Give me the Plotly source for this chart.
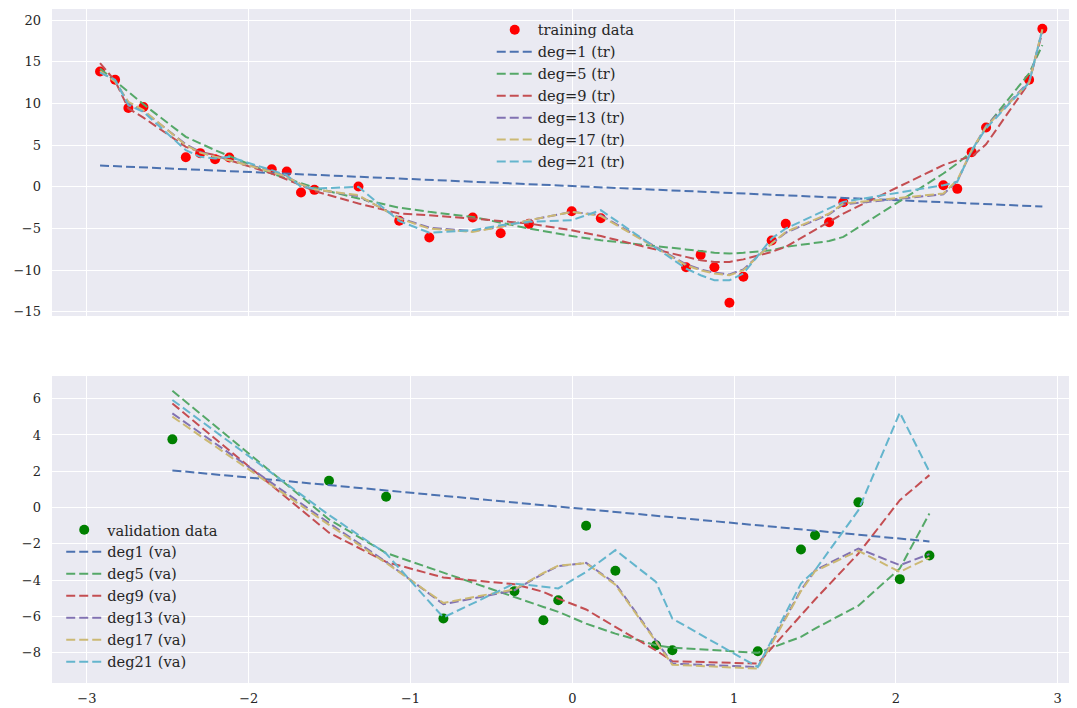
import plotly.graph_objects as go

# ---------------- data ----------------
train_x = [-2.919, -2.826, -2.744, -2.651, -2.389, -2.300, -2.208, -2.120, -1.858, -1.765,
           -1.677, -1.594, -1.322, -1.070, -0.884, -0.616, -0.443, -0.268, -0.004, 0.176,
           0.703, 0.793, 0.878, 0.971, 1.057, 1.232, 1.319, 1.587, 1.675, 2.293,
           2.379, 2.468, 2.557, 2.823, 2.905]
train_y = [13.84, 12.85, 9.45, 9.57, 3.56, 4.04, 3.32, 3.52, 2.12, 1.84,
           -0.68, -0.36, 0.04, -4.06, -6.08, -3.68, -5.56, -4.44, -2.92, -3.76,
           -9.64, -8.16, -9.64, -13.89, -10.77, -6.44, -4.44, -4.24, -1.84, 0.20,
           -0.24, 4.16, 7.12, 12.85, 18.97]

deg1_tr_x = [-2.919, 2.905]
deg1_tr = [2.56, -2.36]
deg5_tr = [14.2, 12.7, 11.3, 9.9, 6.0, 5.2, 4.4, 3.7, 1.6, 1.0,
           0.4, -0.1, -1.4, -2.5, -3.0, -3.6, -4.3, -5.0, -5.9, -6.4,
           -7.5, -7.7, -7.9, -8.0, -7.9, -7.6, -7.2, -6.5, -6.0, 1.6,
           2.8, 4.2, 7.2, 13.6, 17.0]
deg9_tr = [14.85, 12.7, 9.4, 8.3, 4.8, 4.2, 3.8, 3.2, 1.6, 0.9,
           0.2, -0.5, -2.0, -3.2, -3.4, -3.8, -4.1, -4.4, -5.2, -5.9,
           -8.4, -8.8, -9.0, -9.0, -8.7, -7.8, -7.2, -4.2, -3.2, 2.6,
           3.2, 3.6, 5.1, 12.5, 18.6]
deg13_tr = [13.8, 12.7, 10.1, 9.1, 5.1, 4.2, 3.6, 3.2, 1.9, 1.2,
            0.3, -0.3, -1.1, -3.7, -4.9, -5.3, -4.8, -4.0, -3.0, -3.4,
            -9.3, -9.9, -10.3, -10.5, -9.9, -6.8, -5.5, -3.3, -2.1, -0.9,
            0.7, 4.3, 7.3, 12.6, 18.8]
deg17_tr = [13.9, 12.6, 10.2, 9.2, 5.0, 4.1, 3.6, 3.2, 1.8, 1.2,
            0.3, -0.3, -1.0, -3.8, -5.0, -5.4, -4.8, -4.0, -3.0, -3.5,
            -9.4, -10.0, -10.4, -10.6, -10.0, -6.8, -5.4, -3.2, -2.0, -0.8,
            0.8, 4.4, 7.2, 12.5, 18.9]
deg21_tr = [13.7, 12.85, 9.8, 9.0, 4.4, 3.6, 3.4, 3.6, 2.0, 1.4,
            0.0, -0.2, 0.0, -4.1, -5.5, -5.2, -4.6, -4.2, -4.0, -2.8,
            -9.8, -10.6, -11.2, -11.2, -10.4, -6.2, -5.0, -2.6, -1.8, 0.2,
            0.6, 4.4, 7.0, 12.5, 18.85]

val_x = [-2.472, -1.504, -1.151, -0.797, -0.358, -0.179, -0.087, 0.085, 0.266,
         0.517, 0.618, 1.146, 1.413, 1.500, 1.768, 2.024, 2.207]
val_y = [3.76, 1.48, 0.60, -6.11, -4.60, -6.20, -5.10, -1.00, -3.48,
         -7.58, -7.86, -7.91, -2.31, -1.52, 0.29, -3.94, -2.64]

deg1_va_x = [-2.472, 2.207]
deg1_va = [2.05, -1.86]
deg5_va = [6.44, -0.65, -2.50, -3.59, -4.95, -5.47, -5.74, -6.39, -6.94,
           -7.58, -7.71, -8.00, -7.12, -6.66, -5.40, -3.35, -0.32]
deg9_va = [5.74, -1.38, -2.99, -3.85, -4.22, -4.64, -5.01, -5.61, -6.57,
           -7.86, -8.46, -8.59, -5.93, -5.06, -2.53, 0.41, 1.79]
deg13_va = [5.19, -0.85, -2.99, -5.32, -4.55, -3.63, -3.22, -3.04, -4.18,
            -7.30, -8.59, -8.78, -4.55, -3.45, -2.25, -3.17, -2.56]
deg17_va = [5.01, -0.95, -3.05, -5.25, -4.50, -3.60, -3.20, -3.06, -4.25,
            -7.40, -8.65, -8.87, -4.60, -3.50, -2.38, -3.54, -2.75]
deg21_va = [5.93, -0.41, -2.53, -6.05, -4.18, -4.36, -4.45, -3.54, -2.34,
            -4.09, -6.11, -8.78, -4.18, -3.45, -0.14, 5.23, 1.97]

tr_names = ["deg=1 (tr)", "deg=5 (tr)", "deg=9 (tr)", "deg=13 (tr)", "deg=17 (tr)", "deg=21 (tr)"]
va_names = ["deg1 (va)", "deg5 (va)", "deg9 (va)", "deg13 (va)", "deg17 (va)", "deg21 (va)"]
colors = ["#4C72B0", "#55A868", "#C44E52", "#8172B2", "#CCB974", "#64B5CD"]

x_ticks = [-3, -2, -1, 0, 1, 2, 3]
top_y_ticks = [-15, -10, -5, 0, 5, 10, 15, 20]
bot_y_ticks = [-8, -6, -4, -2, 0, 2, 4, 6]

# ---------------- figure ----------------
# The page body keeps its default 8px margin, so the figure is 8px smaller
# than the window and margins are reduced by 8px to land where the reference is.
FONT = "DejaVu Serif"
DASH = "9px,4px"
fig = go.Figure()

fig.add_trace(go.Scatter(x=train_x, y=train_y, mode="markers", name="training data",
                         marker=dict(color="#FF0000", size=10), xaxis="x", yaxis="y",
                         legend="legend"))
tr_x_list = [deg1_tr_x, train_x, train_x, train_x, train_x, train_x]
tr_y_list = [deg1_tr, deg5_tr, deg9_tr, deg13_tr, deg17_tr, deg21_tr]
for nm, xs, ys, c in zip(tr_names, tr_x_list, tr_y_list, colors):
    fig.add_trace(go.Scatter(x=xs, y=ys, mode="lines", name=nm,
                             line=dict(color=c, width=2, dash=DASH),
                             xaxis="x", yaxis="y", legend="legend"))

fig.add_trace(go.Scatter(x=val_x, y=val_y, mode="markers", name="validation data",
                         marker=dict(color="#008000", size=10), xaxis="x2", yaxis="y2",
                         legend="legend2"))
va_x_list = [deg1_va_x, val_x, val_x, val_x, val_x, val_x]
va_y_list = [deg1_va, deg5_va, deg9_va, deg13_va, deg17_va, deg21_va]
for nm, xs, ys, c in zip(va_names, va_x_list, va_y_list, colors):
    fig.add_trace(go.Scatter(x=xs, y=ys, mode="lines", name=nm,
                             line=dict(color=c, width=2, dash=DASH),
                             xaxis="x2", yaxis="y2", legend="legend2"))

axis_common = dict(showgrid=True, gridcolor="white", gridwidth=1.3, zeroline=False,
                   showline=False, ticks="", automargin=False,
                   tickfont=dict(family=FONT, size=13, color="#262626"))
x_range = [-3.216, 3.119]
LEG_FONT = dict(family=FONT, size=14.6, color="#262626")

fig.update_layout(
    width=1069, height=700,
    margin=dict(l=44, r=0, t=1, b=25, autoexpand=False),
    paper_bgcolor="white", plot_bgcolor="#EAEAF2",
    font=dict(family=FONT, size=13, color="#262626"),
    xaxis=dict(domain=[0, 1], anchor="y", range=x_range, tickvals=x_ticks,
               showticklabels=False, matches="x2", **axis_common),
    yaxis=dict(domain=[0.5445, 1], anchor="x", range=[-15.49, 21.33], tickvals=top_y_ticks,
               ticklabelstandoff=10, **axis_common),
    xaxis2=dict(domain=[0, 1], anchor="y2", range=x_range, tickvals=x_ticks,
                ticklabelstandoff=6, **axis_common),
    yaxis2=dict(domain=[0, 0.4555], anchor="x2", range=[-9.66, 7.25], tickvals=bot_y_ticks,
                ticklabelstandoff=10, **axis_common),
    legend=dict(x=0.429, y=0.993, xanchor="left", yanchor="top", bgcolor="rgba(0,0,0,0)",
                borderwidth=0, font=LEG_FONT, tracegroupgap=0, itemwidth=36),
    legend2=dict(x=0.009, y=0.251, xanchor="left", yanchor="top", bgcolor="rgba(0,0,0,0)",
                 borderwidth=0, font=LEG_FONT, tracegroupgap=0, itemwidth=36),
    showlegend=True,
)

fig.write_html("out.html")
